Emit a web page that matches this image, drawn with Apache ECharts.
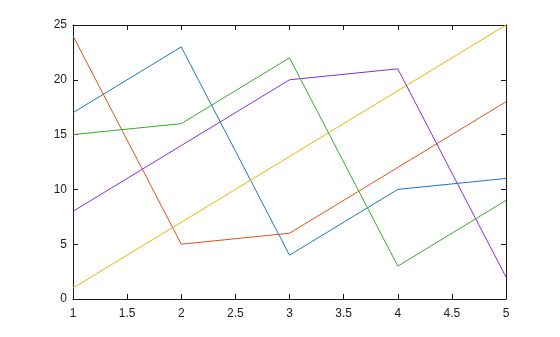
<!DOCTYPE html>
<html>
<head>
<meta charset="utf-8">
<script src="https://cdn.jsdelivr.net/npm/echarts@6/dist/echarts.min.js"></script>
<style>html,body{margin:0;padding:0;background:#fff}#c{width:560px;height:337px}</style>
</head>
<body>
<div id="c"></div>
<script>
var xValues = [1, 2, 3, 4, 5];
var blueValues = [17, 23, 4, 10, 11];
var orangeValues = [24, 5, 6, 12, 18];
var yellowValues = [1, 7, 13, 19, 25];
var purpleValues = [8, 14, 20, 21, 2];
var greenValues = [15, 16, 22, 3, 9];
var xTicks = [1, 1.5, 2, 2.5, 3, 3.5, 4, 4.5, 5];
var yTicks = [0, 5, 10, 15, 20, 25];

var seriesDefs = [
  {name: 'c1', data: blueValues, color: '#1f74c4'},
  {name: 'c2', data: orangeValues, color: '#e0521a'},
  {name: 'c3', data: yellowValues, color: '#f2b400'},
  {name: 'c4', data: purpleValues, color: '#8a2be2'},
  {name: 'c5', data: greenValues, color: '#3aa82e'}
];

var axisColor = '#1a1a1a';
var font = '"Liberation Sans", Arial, Helvetica, sans-serif';

function mkX(pos, show) {
  return {
    type: 'value', position: pos, min: xTicks[0], max: xTicks[xTicks.length-1], interval: 0.5,
    axisLine: {show: true, onZero: false, lineStyle: {color: axisColor, width: 1}},
    axisTick: {show: true, inside: true, length: 5, lineStyle: {color: axisColor}},
    axisLabel: {show: show, color: '#222', fontSize: 12, fontFamily: font, margin: 9},
    splitLine: {show: false}
  };
}
function mkY(pos, show) {
  return {
    type: 'value', position: pos, min: yTicks[0], max: yTicks[yTicks.length-1], interval: 5,
    axisLine: {show: true, onZero: false, lineStyle: {color: axisColor, width: 1}},
    axisTick: {show: true, inside: true, length: 5, lineStyle: {color: axisColor}},
    axisLabel: {show: show, color: '#222', fontSize: 12, fontFamily: font, margin: 6},
    splitLine: {show: false}
  };
}

var chart = echarts.init(document.getElementById('c'), null, {renderer: 'canvas'});
chart.setOption({
  animation: false,
  grid: {left: 73, top: 25, right: 54, bottom: 38, containLabel: false},
  xAxis: [mkX('bottom', true), mkX('top', false)],
  yAxis: [mkY('left', true), mkY('right', false)],
  series: seriesDefs.map(function (s) {
    return {
      name: s.name, type: 'line', xAxisIndex: 0, yAxisIndex: 0,
      data: xValues.map(function (x, i) { return [x, s.data[i]]; }),
      showSymbol: false, symbol: 'none',
      lineStyle: {color: s.color, width: 1},
      itemStyle: {color: s.color}
    };
  })
});
</script>
</body>
</html>
